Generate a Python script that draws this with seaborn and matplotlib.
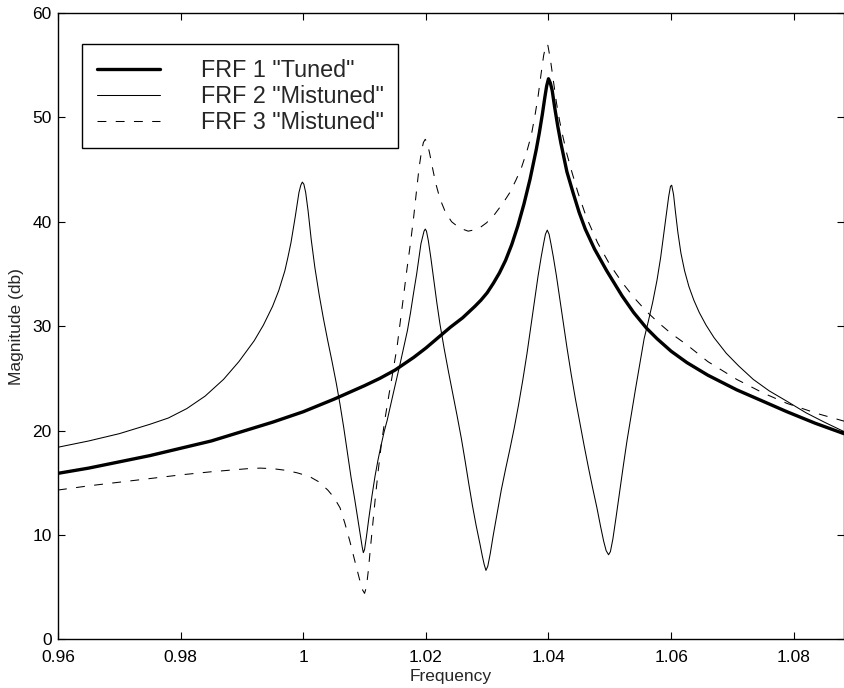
import matplotlib
matplotlib.use("Agg")
import matplotlib.pyplot as plt
import seaborn as sns
import pandas as pd

# ---- data ----
freq_tuned = [0.960, 0.965, 0.970, 0.975, 0.980, 0.985, 0.990, 0.995, 1.000, 1.005,
              1.010, 1.0125, 1.015, 1.018, 1.020, 1.022, 1.024, 1.026, 1.028, 1.029,
              1.030, 1.031, 1.032, 1.033, 1.034, 1.035, 1.036, 1.037, 1.038, 1.0385,
              1.039, 1.0394, 1.0397, 1.0400, 1.0403, 1.0406, 1.0410, 1.0415, 1.0420,
              1.0430, 1.0440, 1.0450, 1.0460, 1.0475, 1.0495, 1.0520, 1.0539, 1.0560,
              1.0577, 1.0600, 1.0626, 1.0660, 1.0707, 1.0750, 1.0789, 1.0835, 1.0882]
mag_tuned = [15.9, 16.4, 17.0, 17.6, 18.3, 19.0, 19.9, 20.8, 21.8, 23.0,
             24.3, 25.0, 25.8, 27.0, 27.9, 28.9, 29.9, 30.8, 31.9, 32.5,
             33.2, 34.1, 35.1, 36.3, 37.8, 39.6, 41.7, 44.1, 46.9, 48.5,
             50.3, 51.9, 53.0, 53.7, 53.3, 52.6, 51.0, 49.2, 47.6,
             44.8, 42.8, 40.9, 39.3, 37.4, 35.3, 32.9, 31.3, 29.8,
             28.8, 27.6, 26.5, 25.3, 23.9, 22.8, 21.8, 20.7, 19.7]

freq_mis2 = [0.960, 0.965, 0.970, 0.975, 0.978, 0.981, 0.984, 0.987, 0.9895, 0.992,
             0.9935, 0.995, 0.996, 0.997, 0.9975, 0.998, 0.9987, 0.9993, 0.9996, 0.99985,
             1.0001, 1.0004, 1.0008, 1.0013, 1.0019, 1.0026, 1.0033, 1.0040, 1.0047, 1.0054,
             1.0060, 1.0066, 1.0072, 1.0078, 1.0084, 1.0089, 1.0093, 1.0096, 1.0098, 1.0100,
             1.0103, 1.0107, 1.0112, 1.0117, 1.0122, 1.0127, 1.0132, 1.0137, 1.0147, 1.0158,
             1.0170, 1.0175, 1.0180, 1.0185, 1.0192, 1.0197, 1.0199, 1.0201, 1.0204, 1.0208,
             1.0213, 1.0218, 1.0223, 1.0230, 1.0237, 1.0244, 1.0251, 1.0258, 1.0264, 1.0270,
             1.0276, 1.0282, 1.0288, 1.0292, 1.0295, 1.0298, 1.0301, 1.0305, 1.0310, 1.0316,
             1.0323, 1.0330, 1.0337, 1.0344, 1.0351, 1.0358, 1.0365, 1.0372, 1.0378, 1.0383,
             1.0388, 1.0392, 1.0395, 1.0398, 1.0401, 1.0404, 1.0408, 1.0413, 1.0418, 1.0424,
             1.0430, 1.0437, 1.0444, 1.0451, 1.0458, 1.0465, 1.0472, 1.0479, 1.0485, 1.0490,
             1.0494, 1.0498, 1.0501, 1.0505, 1.0510, 1.0516, 1.0522, 1.0528, 1.0535, 1.0542,
             1.0549, 1.0556, 1.0563, 1.0570, 1.0577, 1.0583, 1.0588, 1.0592, 1.0596, 1.0599,
             1.0601, 1.0604, 1.0607, 1.0611, 1.0616, 1.0622, 1.0629, 1.0637, 1.0646, 1.0657,
             1.0670, 1.0690, 1.0710, 1.0734, 1.0760, 1.0789, 1.0820, 1.0850, 1.0882]
mag_mis2 = [18.4, 19.0, 19.7, 20.6, 21.2, 22.1, 23.3, 24.9, 26.6, 28.6,
            30.1, 31.9, 33.4, 35.3, 36.6, 38.0, 40.5, 42.8, 43.5, 43.8,
            43.6, 42.8, 41.0, 38.3, 35.6, 33.0, 30.7, 28.6, 26.6, 24.5,
            22.5, 20.3, 17.9, 15.5, 13.4, 11.5, 10.0, 8.9, 8.3, 8.6,
            9.8, 11.6, 13.7, 15.6, 17.2, 18.6, 19.9, 21.0, 23.6, 26.4,
            29.6, 31.3, 33.2, 35.0, 37.9, 39.1, 39.3, 39.1, 38.2, 36.6,
            34.4, 32.2, 30.2, 27.8, 25.6, 23.5, 21.4, 19.2, 17.1, 14.9,
            12.8, 10.9, 9.2, 8.0, 7.2, 6.6, 7.0, 8.2, 10.0, 12.0,
            14.3, 16.3, 18.2, 20.2, 22.4, 24.8, 27.4, 30.3, 32.8, 34.8,
            36.6, 37.9, 38.8, 39.2, 38.8, 37.9, 36.6, 34.8, 32.8, 30.4,
            28.0, 25.4, 23.0, 20.8, 18.6, 16.5, 14.5, 12.6, 10.8, 9.4,
            8.5, 8.1, 8.4, 9.6, 11.6, 14.1, 16.6, 19.0, 21.5, 24.0,
            26.4, 28.8, 30.5, 32.3, 34.4, 36.6, 38.8, 40.6, 42.4, 43.4,
            43.5, 42.6, 41.0, 39.0, 37.0, 35.3, 33.8, 32.5, 31.3, 30.1,
            28.9, 27.4, 26.2, 24.9, 23.8, 22.8, 21.7, 20.8, 19.9]

freq_mis3 = [0.960, 0.965, 0.970, 0.975, 0.980, 0.985, 0.988, 0.991, 0.993, 0.995,
             0.997, 0.999, 1.001, 1.0025, 1.004, 1.005, 1.006, 1.0068, 1.0076, 1.0085,
             1.0092, 1.0097, 1.0100, 1.0103, 1.0106, 1.0110, 1.0114, 1.0118, 1.0122, 1.0127,
             1.0133, 1.0140, 1.0147, 1.0153, 1.0158, 1.0163, 1.0169, 1.0175, 1.0180, 1.0185,
             1.0189, 1.0193, 1.0196, 1.0199, 1.0202, 1.0206, 1.0210, 1.0216, 1.0223, 1.0232,
             1.0242, 1.0255, 1.0269, 1.0285, 1.0299, 1.0312, 1.0326, 1.0337, 1.0347, 1.0356,
             1.0365, 1.0372, 1.0378, 1.0383, 1.0388, 1.0392, 1.0396, 1.0399, 1.0403, 1.0408,
             1.0413, 1.0418, 1.0423, 1.0430, 1.0438, 1.0448, 1.0462, 1.0480, 1.0500, 1.0520,
             1.0540, 1.0560, 1.0580, 1.0600, 1.0626, 1.0660, 1.0707, 1.0750, 1.0789, 1.0840,
             1.0882]
mag_mis3 = [14.3, 14.7, 15.05, 15.4, 15.75, 16.05, 16.2, 16.35, 16.4, 16.35,
            16.2, 15.95, 15.6, 15.1, 14.3, 13.6, 12.6, 11.1, 9.4, 7.3,
            5.7, 4.7, 4.4, 5.0, 6.5, 9.0, 11.4, 13.8, 16.0, 18.5,
            21.0, 23.5, 25.9, 28.0, 30.3, 32.6, 35.4, 38.0, 40.4, 43.1,
            45.2, 46.8, 47.6, 47.9, 47.6, 46.6, 45.4, 43.7, 42.2, 40.9,
            40.0, 39.4, 39.1, 39.3, 39.9, 40.7, 41.8, 42.8, 44.0, 45.2,
            46.8, 48.3, 50.2, 52.0, 54.2, 55.9, 57.0, 56.9, 55.6, 53.5,
            51.4, 49.7, 48.3, 46.5, 44.8, 42.8, 40.4, 38.0, 35.9, 34.2,
            32.7, 31.4, 30.3, 29.3, 28.2, 26.6, 24.9, 23.6, 22.6, 21.6,
            20.9]

labels = ['FRF 1 "Tuned"', 'FRF 2 "Mistuned"', 'FRF 3 "Mistuned"']
x_ticks = [0.96, 0.98, 1.00, 1.02, 1.04, 1.06, 1.08]
x_tick_labels = ["0.96", "0.98", "1", "1.02", "1.04", "1.06", "1.08"]
y_ticks = [0, 10, 20, 30, 40, 50, 60]

# ---- build tables ----
df1 = pd.DataFrame({"Frequency": freq_tuned, "Magnitude": mag_tuned})
df2 = pd.DataFrame({"Frequency": freq_mis2, "Magnitude": mag_mis2})
df3 = pd.DataFrame({"Frequency": freq_mis3, "Magnitude": mag_mis3})

sns.set_theme(style="ticks")
plt.rcParams["font.family"] = ["Liberation Sans", "DejaVu Sans"]

fig = plt.figure(figsize=(8.45, 6.88), dpi=100)
ax = fig.add_axes([58 / 845, 1 - 639.3 / 688, (844 - 58) / 845, (639.3 - 13) / 688])

sns.lineplot(data=df1, x="Frequency", y="Magnitude", ax=ax, color="black",
             linewidth=2.4, estimator=None, label=labels[0])
sns.lineplot(data=df2, x="Frequency", y="Magnitude", ax=ax, color="black",
             linewidth=0.75, estimator=None, label=labels[1])
sns.lineplot(data=df3, x="Frequency", y="Magnitude", ax=ax, color="black",
             linewidth=0.75, estimator=None, label=labels[2])
ax.lines[2].set_linestyle((0, (8.5, 9)))

ax.set_xlim(0.96, 1.0882)
ax.set_ylim(0, 60)
ax.set_xticks(x_ticks)
ax.set_xticklabels(x_tick_labels)
ax.set_yticks(y_ticks)
ax.set_xlabel("Frequency", fontsize=12.5, labelpad=3)
ax.set_ylabel("Magnitude (db)", fontsize=12.5, labelpad=6)
ax.tick_params(axis="both", which="both", direction="in", length=5, width=0.8,
               labelsize=12.5, top=True, right=True, colors="black")
ax.tick_params(axis="x", pad=7.5)
ax.tick_params(axis="y", pad=4.5)
for s in ax.spines.values():
    s.set_visible(True)
    s.set_color("black")
    s.set_linewidth(1.0)

leg = ax.legend(loc="upper left", bbox_to_anchor=((82 - 58) / 786, (639.3 - 44) / 626.3),
                borderaxespad=0, fontsize=16.8, frameon=True, fancybox=False,
                edgecolor="black", framealpha=1, handlelength=2.7, handletextpad=1.75,
                labelspacing=0.13, borderpad=0.63)
leg.get_frame().set_linewidth(1.0)

fig.savefig("out.png", dpi=100)
